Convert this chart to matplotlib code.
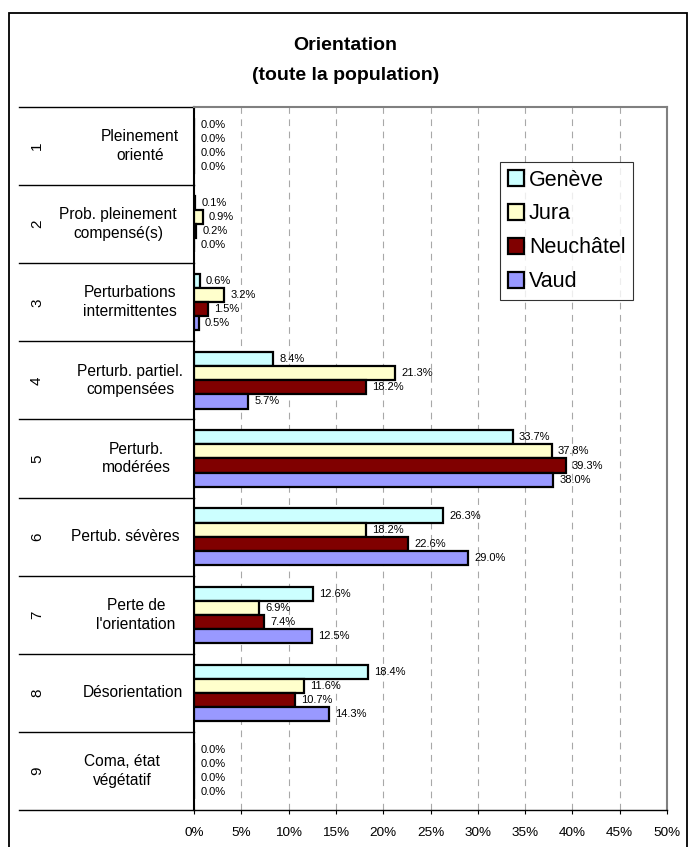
import matplotlib.pyplot as plt
import numpy as np
from matplotlib.patches import Rectangle
from matplotlib.lines import Line2D

plt.rcParams['font.family'] = ['Liberation Sans', 'DejaVu Sans']

codes = ["1", "2", "3", "4", "5", "6", "7", "8", "9"]
categories = [
    "Pleinement\norienté",
    "Prob. pleinement\ncompensé(s)",
    "Perturbations\nintermittentes",
    "Perturb. partiel.\ncompensées",
    "Perturb.\nmodérées",
    "Pertub. sévères",
    "Perte de\nl'orientation",
    "Désorientation",
    "Coma, état\nvégétatif",
]
geneve = [0.0, 0.1, 0.6, 8.4, 33.7, 26.3, 12.6, 18.4, 0.0]
jura = [0.0, 0.9, 3.2, 21.3, 37.8, 18.2, 6.9, 11.6, 0.0]
neuchatel = [0.0, 0.2, 1.5, 18.2, 39.3, 22.6, 7.4, 10.7, 0.0]
vaud = [0.0, 0.0, 0.5, 5.7, 38.0, 29.0, 12.5, 14.3, 0.0]
series_names = ["Genève", "Jura", "Neuchâtel", "Vaud"]
colors = ["#CCFFFF", "#FFFFCC", "#800000", "#9999FF"]

# horizontal centre (px) of each category label in the left table
label_px = [140, 118, 130, 130, 136, 125, 136, 133, 122]


def main():
    fig = plt.figure(figsize=(6.91, 8.47), dpi=100)
    W, H = 691, 847

    # outer chart frame
    fig.patches.append(Rectangle((9 / W, -0.01), (687 - 9) / W, (H - 13) / H + 0.01,
                                 transform=fig.transFigure, fill=False,
                                 edgecolor="black", linewidth=1.3))

    fig.text(0.5, 1 - 45 / H, "Orientation", ha="center", va="center",
             fontsize=14, fontweight="bold")
    fig.text(0.5, 1 - 75 / H, "(toute la population)", ha="center", va="center",
             fontsize=14, fontweight="bold")

    left, right, top, bottom = 194, 667, 107, 810
    ax = fig.add_axes([left / W, 1 - bottom / H, (right - left) / W, (bottom - top) / H])

    y = np.arange(len(categories))
    h = 0.18
    all_series = [geneve, jura, neuchatel, vaud]
    for k, (vals, name, col) in enumerate(zip(all_series, series_names, colors)):
        pos = y + (k - 1.5) * h
        ax.barh(pos, vals, height=h, color=col, edgecolor="black", linewidth=1.6,
                label=name, zorder=3)
        for p, v in zip(pos, vals):
            ax.annotate(f"{v:.1f}%", (v, p), xytext=(4.5, 0), textcoords="offset points",
                        ha="left", va="center", fontsize=8, zorder=4)

    ax.set_xlim(0, 50)
    ax.set_ylim(len(categories) - 0.5, -0.5)
    ax.set_xticks(np.arange(0, 51, 5))
    ax.set_xticklabels([f"{t}%" for t in range(0, 51, 5)], fontsize=9.7)
    ax.tick_params(axis="x", length=3, width=0.8, pad=9)
    ax.set_yticks([])
    ax.xaxis.grid(True, color="#A8A8A8", linestyle=(0, (6, 5)), linewidth=0.8, zorder=0)

    ax.spines["left"].set_linewidth(1.5)
    ax.spines["bottom"].set_linewidth(1.0)
    for s in ("top", "right"):
        ax.spines[s].set_color("#808080")
        ax.spines[s].set_linewidth(1.5)

    # category table on the left
    tr = ax.get_yaxis_transform()
    span = right - left
    x0 = (19 - left) / span
    for b in np.arange(len(categories) + 1) - 0.5:
        ax.add_line(Line2D([x0, 0], [b, b], transform=tr, color="black",
                           linewidth=1.0, clip_on=False))
    for i, (c, lab) in enumerate(zip(codes, categories)):
        ax.text((37 - left) / span, i, c, transform=tr, rotation=90,
                ha="center", va="center", fontsize=11)
        ax.text((label_px[i] - left) / span, i, lab, transform=tr,
                ha="center", va="center", fontsize=11.2, linespacing=1.3)

    leg = ax.legend(loc="upper left",
                    bbox_to_anchor=((500 - left) / span, 1 - (162 - top) / (bottom - top)),
                    fontsize=15.5, frameon=True, fancybox=False, borderaxespad=0,
                    handlelength=0.75, handleheight=0.75, handletextpad=0.25,
                    labelspacing=0.6, borderpad=0.35)
    leg.get_frame().set_edgecolor("black")
    leg.get_frame().set_linewidth(0.8)

    fig.savefig("out.png", dpi=100)


if __name__ == "__main__":
    main()
